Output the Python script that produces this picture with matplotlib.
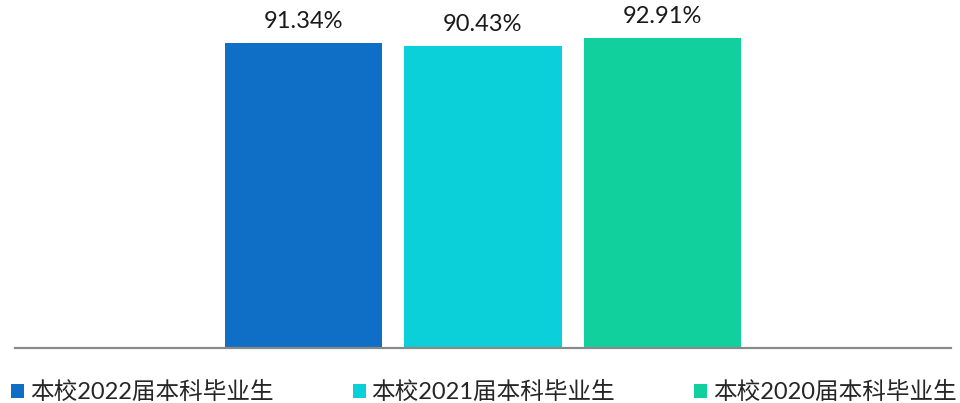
import matplotlib
matplotlib.use('Agg')

import matplotlib.pyplot as plt

plt.rcParams['font.family'] = ['Lato', 'Noto Sans CJK SC', 'DejaVu Sans']

# 数据
series = ['本校2022届本科毕业生', '本校2021届本科毕业生', '本校2020届本科毕业生']
values = [91.34, 90.43, 92.91]
colors = ['#0F6FC6', '#0BD0D9', '#12CF9E']

fig = plt.figure(figsize=(9.6, 4.03), dpi=100)
ax = fig.add_axes([15 / 960, 55 / 403, 936 / 960, 334 / 403])

offsets = [-1, 0, 1]
width = 0.875
for off, val, col, name in zip(offsets, values, colors, series):
    bars = ax.bar(off, val, width, color=col, label=name)
    ax.bar_label(bars, labels=[f'{val:.2f}%'], padding=8, fontsize=17, color='#1a1a1a')

ax.set_xlim(-2.607, 2.607)
ax.set_ylim(0, 100)
ax.set_xticks([])
ax.set_yticks([])
for s in ['top', 'left', 'right']:
    ax.spines[s].set_visible(False)
ax.spines['bottom'].set_color('#898989')
ax.spines['bottom'].set_linewidth(1.6)

fig.legend(loc='lower left', bbox_to_anchor=(11 / 960, 0.0, 946 / 960, 0.075),
           mode='expand', ncol=3, frameon=False, fontsize=17,
           handlelength=0.55, handleheight=0.55, handletextpad=0.25,
           borderpad=0, borderaxespad=0, labelcolor='#262626')

fig.savefig('out.png', dpi=100)
plt.close(fig)
